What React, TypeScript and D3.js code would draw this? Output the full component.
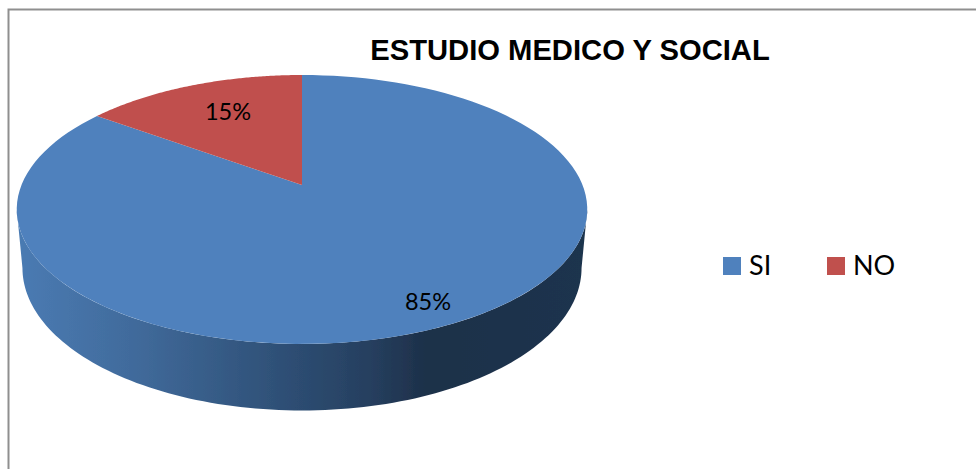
import React from "react";
import * as d3 from "d3";

const categories = ["SI", "NO"];
const values = [85, 15];
const labels = ["85%", "15%"];
const title = "ESTUDIO MEDICO Y SOCIAL";
const topColors = ["#4f81bd", "#c0504d"];

const W = 976;
const H = 469;
const cx = 302;
const cy = 185;
const persp = 0.182;
const A = 280.5;
const B = 130;

// Perspective view of the pie's circular top face.
function project(a: number): [number, number] {
  const u = Math.sin(a);
  const v = Math.cos(a);
  const d = 1 + persp * v;
  return [cx + (A * u) / d, cy - (B * v) / d];
}
// The lower rim of the pie seen through the same camera.
function projectBase(a: number): [number, number] {
  const [x, y] = project(a);
  return [cx + (x - cx) * 0.98, y + 58.5 + (y - 209.5) * 0.06];
}

const line = d3.line();
const samples = (a0: number, a1: number, f: (a: number) => [number, number]) =>
  d3.range(0, 121).map((i) => f(a0 + ((a1 - a0) * i) / 120));

export default function App() {
  const arcs = d3.pie<number>().sort(null)(values);
  const tilt = Math.asin(persp);
  const a0 = Math.PI / 2 + tilt;
  const a1 = (3 * Math.PI) / 2 - tilt;
  const wall = line([...samples(a0, a1, project), ...samples(a1, a0, projectBase)]) + "Z";
  return (
    <svg
      width={W}
      height={H}
      viewBox={`0 0 ${W} ${H}`}
      style={{ position: "absolute", left: 0, top: 0, display: "block" }}
    >
      <defs>
        <linearGradient id="wall" gradientUnits="userSpaceOnUse" x1={17} x2={587} y1={0} y2={0}>
          <stop offset="0" stopColor="#4a7bb3" />
          <stop offset="0.2" stopColor="#416b9c" />
          <stop offset="0.45" stopColor="#2f5178" />
          <stop offset="0.62" stopColor="#263f5f" />
          <stop offset="0.72" stopColor="#1d3049" />
          <stop offset="1" stopColor="#1f344e" />
        </linearGradient>
        <filter id="soft" x="-2%" y="-2%" width="104%" height="104%">
          <feGaussianBlur stdDeviation={0.45} />
        </filter>
      </defs>
      <rect width={W} height={H} fill="#fff" />
      <path d="M8.5 469V9.5H976" fill="none" stroke="#8f8f8f" strokeWidth={2} />
      <g filter="url(#soft)">
        <path d={wall} fill="url(#wall)" />
        {arcs.map((d, i) => (
          <path
            key={categories[i]}
            d={line([[cx, cy], ...samples(d.startAngle, d.endAngle, project)]) + "Z"}
            fill={topColors[i]}
          />
        ))}
      </g>
      <text x={570} y={60} textAnchor="middle" fontFamily="'Liberation Sans'" fontWeight={700} fontSize={29.2} fill="#000">
        {title}
      </text>
      <text x={428} y={310} textAnchor="middle" fontFamily="Lato" fontSize={23.5} fill="#000">{labels[0]}</text>
      <text x={228} y={120} textAnchor="middle" fontFamily="Lato" fontSize={23.5} fill="#000">{labels[1]}</text>
      {categories.map((c, i) => (
        <g key={c} transform={`translate(${723 + i * 104},257)`}>
          <rect width={18} height={18} fill={topColors[i]} />
          <text x={26} y={18} fontFamily="Lato" fontSize={27} fill="#000">{c}</text>
        </g>
      ))}
    </svg>
  );
}
